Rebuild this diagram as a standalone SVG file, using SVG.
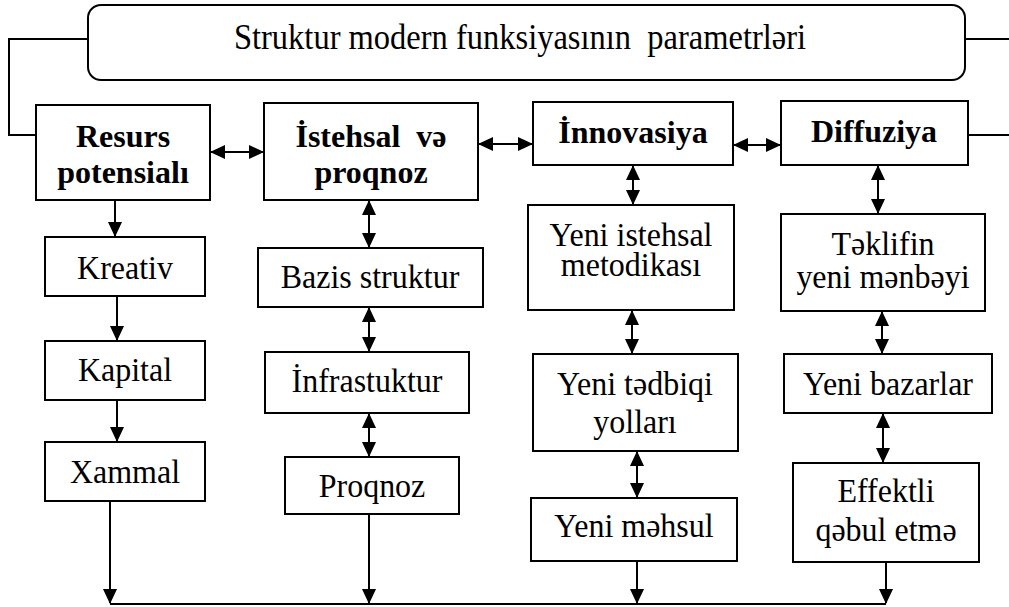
<svg xmlns="http://www.w3.org/2000/svg" width="1009" height="607" viewBox="0 0 1009 607">
<style>
.b{fill:#fff;stroke:#000;stroke-width:2}
.t{font-family:"Liberation Serif","Times New Roman",serif;font-size:32px;text-anchor:middle;fill:#000}
.bd{font-weight:bold}
.c{fill:none;stroke:#000;stroke-width:2}
</style>
<defs>
<marker id="ah" markerUnits="userSpaceOnUse" markerWidth="15" markerHeight="14" refX="14" refY="7" orient="auto-start-reverse"><path d="M0,0 L15,7 L0,14 z" fill="#000"/></marker>
</defs>
<g id="connectors">
<path class="c" d="M88,39 H9 V135 H36"/>
<path class="c" d="M965,39 H1009"/>
<path class="c" d="M968,135 H1009"/>
<path class="c" d="M211,152 H263" marker-start="url(#ah)" marker-end="url(#ah)"/>
<path class="c" d="M479,144 H532" marker-start="url(#ah)" marker-end="url(#ah)"/>
<path class="c" d="M734,145 H780" marker-start="url(#ah)" marker-end="url(#ah)"/>
<path class="c" d="M115,200 V236" marker-end="url(#ah)"/>
<path class="c" d="M117,296 V340" marker-end="url(#ah)"/>
<path class="c" d="M117,400 V441" marker-end="url(#ah)"/>
<path class="c" d="M110,501 V603" marker-end="url(#ah)"/>
<path class="c" d="M369,201 V247" marker-start="url(#ah)" marker-end="url(#ah)"/>
<path class="c" d="M369,308 V351" marker-start="url(#ah)" marker-end="url(#ah)"/>
<path class="c" d="M369,414 V456" marker-start="url(#ah)" marker-end="url(#ah)"/>
<path class="c" d="M369,514 V603" marker-end="url(#ah)"/>
<path class="c" d="M633,166 V204" marker-start="url(#ah)" marker-end="url(#ah)"/>
<path class="c" d="M632,311 V353" marker-start="url(#ah)" marker-end="url(#ah)"/>
<path class="c" d="M637,452 V497" marker-start="url(#ah)" marker-end="url(#ah)"/>
<path class="c" d="M637,561 V603" marker-end="url(#ah)"/>
<path class="c" d="M878,166 V213" marker-start="url(#ah)" marker-end="url(#ah)"/>
<path class="c" d="M882,312 V353" marker-start="url(#ah)" marker-end="url(#ah)"/>
<path class="c" d="M883,414 V462" marker-start="url(#ah)" marker-end="url(#ah)"/>
<path class="c" d="M886,562 V603" marker-end="url(#ah)"/>
<path class="c" d="M110,604 H886"/>
</g>
<g id="title"><rect class="b" x="88" y="5" width="877" height="75" rx="13"/><text class="t" transform="matrix(1,0,0,1.1,520,49)" style="font-size:32.5px">Struktur modern funksiyasının&#160; parametrləri</text></g>
<g id="resurs"><rect class="b" x="36" y="105" width="174" height="95"/><text class="t bd" x="123" y="147">Resurs</text><text class="t bd" x="123" y="183">potensialı</text></g>
<g id="istehsal"><rect class="b" x="264" y="103" width="214" height="97"/><text class="t bd" x="371" y="147">İstehsal&#160; və</text><text class="t bd" x="371" y="183">proqnoz</text></g>
<g id="innovasiya"><rect class="b" x="533" y="102" width="200" height="63"/><text class="t bd" x="633" y="143">İnnovasiya</text></g>
<g id="diffuziya"><rect class="b" x="781" y="101" width="187" height="64"/><text class="t bd" x="874" y="142">Diffuziya</text></g>
<g id="kreativ"><rect class="b" x="45" y="237" width="160" height="59"/><text class="t" transform="matrix(1,0,0,1.08,125,279)">Kreativ</text></g>
<g id="kapital"><rect class="b" x="45" y="341" width="160" height="59"/><text class="t" transform="matrix(1,0,0,1.08,125,381)">Kapital</text></g>
<g id="xammal"><rect class="b" x="45" y="442" width="160" height="59"/><text class="t" transform="matrix(1,0,0,1.08,125,483)">Xammal</text></g>
<g id="bazis"><rect class="b" x="258" y="248" width="225" height="59"/><text class="t" transform="matrix(1,0,0,1.08,370,288)">Bazis struktur</text></g>
<g id="infra"><rect class="b" x="265" y="352" width="204" height="61"/><text class="t" transform="matrix(1,0,0,1.08,367,392)">İnfrastuktur</text></g>
<g id="proqnoz"><rect class="b" x="285" y="457" width="174" height="57"/><text class="t" transform="matrix(1,0,0,1.08,372,497)">Proqnoz</text></g>
<g id="yeni-istehsal"><rect class="b" x="528" y="205" width="206" height="105"/><text class="t" transform="matrix(1,0,0,1.08,631,246)">Yeni istehsal</text><text class="t" transform="matrix(1,0,0,1.08,631,276)">metodikası</text></g>
<g id="yeni-tedbiqi"><rect class="b" x="533" y="354" width="205" height="97"/><text class="t" transform="matrix(1,0,0,1.08,635,395)">Yeni tədbiqi</text><text class="t" transform="matrix(1,0,0,1.08,635,433)">yolları</text></g>
<g id="yeni-mehsul"><rect class="b" x="531" y="498" width="206" height="63"/><text class="t" transform="matrix(1,0,0,1.08,634,537)">Yeni məhsul</text></g>
<g id="teklifin"><rect class="b" x="781" y="214" width="204" height="97"/><text class="t" transform="matrix(1,0,0,1.08,883,255)">Təklifin</text><text class="t" transform="matrix(1,0,0,1.08,883,288)">yeni mənbəyi</text></g>
<g id="bazarlar"><rect class="b" x="784" y="354" width="208" height="59"/><text class="t" transform="matrix(1,0,0,1.08,888,395)">Yeni bazarlar</text></g>
<g id="effektli"><rect class="b" x="793" y="463" width="186" height="99"/><text class="t" transform="matrix(1,0,0,1.08,886,502)">Effektli</text><text class="t" transform="matrix(1,0,0,1.08,886,541)">qəbul etmə</text></g>
</svg>
